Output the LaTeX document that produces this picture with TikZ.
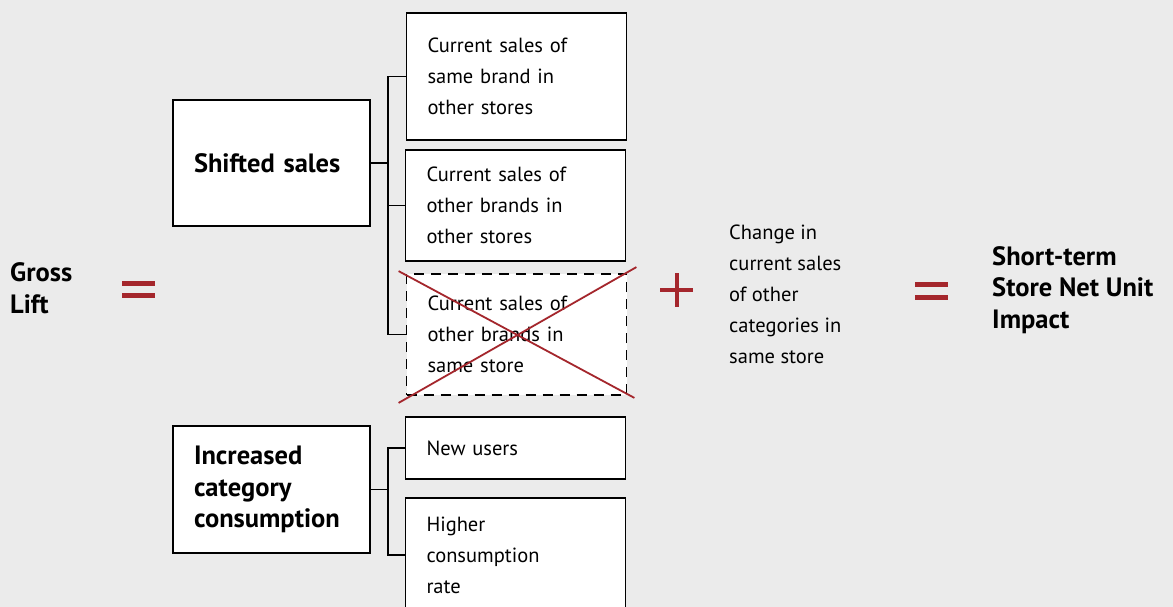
\documentclass[tikz,border=0pt]{standalone}
\usepackage{fontspec}
\setmainfont{PT Sans}
\usetikzlibrary{calc}

\definecolor{bgray}{RGB}{235,235,235}
\definecolor{darkred}{RGB}{164,38,44}

\begin{document}
\begin{tikzpicture}[x=1pt,y=-1pt,line cap=butt,line join=miter,
        box/.style={draw=black,line width=1.8pt,fill=white,rectangle,align=left,inner xsep=21pt,inner ysep=0pt},
        leafbox/.style={box,text width=178pt,font=\fontsize{20.5}{31}\selectfont},
        headbox/.style={box,text width=155pt,font=\bfseries\fontsize{26.5}{31.5}\selectfont},
        freetext/.style={anchor=west,align=left,inner sep=0pt},
        conn/.style={line width=1.8pt},
        redsign/.style={draw=darkred,line width=5pt},
        cross/.style={draw=darkred,line width=1.8pt}]
        \useasboundingbox (0,0) rectangle (1173,607);
        \fill[bgray] (0,0) rectangle (1173,607);
        \clip (0,0) rectangle (1173,607);
        % left term and the two groups
        \node[freetext,font=\bfseries\fontsize{26.5}{32}\selectfont] (gross) at (10,288) {Gross\\Lift};
        \node[headbox,minimum height=126pt] (shifted) at (271.5,163) {Shifted sales};
        \node[headbox,minimum height=127pt] (increased) at (271.5,489.5) {Increased\\category\\consumption};
        \node[leafbox,minimum height=127pt] (samebrand) at (516.5,76.5) {Current sales of\\same brand in\\other stores};
        \node[leafbox,minimum height=111pt] (otherbrands) at (515.5,205.5) {Current sales of\\other brands in\\other stores};
        \node[leafbox,minimum height=121pt,dash pattern=on 10pt off 7pt] (samestore) at (516.5,334.5) {Current sales of\\other brands in\\same store};
        \node[leafbox,minimum height=62pt] (newusers) at (515.5,448) {New users};
        \node[leafbox,minimum height=114pt] (higher) at (515.5,555) {Higher\\consumption\\rate};
        % brackets
        \coordinate (sj) at (388,163);
        \coordinate (ij) at (388,489.5);
        \draw[conn] (shifted.east) -- (sj);
        \draw[conn] (samebrand.west) -| (sj) |- (samestore.west);
        \draw[conn] (otherbrands.west) -- (otherbrands.west -| sj);
        \draw[conn] (increased.east) -- (ij);
        \draw[conn] (newusers.west) -| (ij) |- (higher.west);
        % struck out term
        \draw[cross] ($(samestore.north west)+(-7,-2)$) -- ($(samestore.south east)+(7,2)$);
        \draw[cross] ($(samestore.south west)+(-7,7)$) -- ($(samestore.north east)+(9,-6)$);
        % signs
        \draw[redsign] (122,283.5) -- (155,283.5);
        \draw[redsign] (122,295.5) -- (155,295.5);
        \draw[redsign,line width=4pt] (660,290) -- (693,290);
        \draw[redsign,line width=4pt] (676.5,273) -- (676.5,307);
        \draw[redsign] (915,284.5) -- (948,284.5);
        \draw[redsign] (915,297.5) -- (948,297.5);
        % right side
        \node[freetext,font=\fontsize{20.5}{31}\selectfont] (othercat) at (729,294) {Change in\\current sales\\of other\\categories in\\same store};
        \node[freetext,font=\bfseries\fontsize{26.5}{31.5}\selectfont] (netimpact) at (992,290) {Short-term\\Store Net Unit\\Impact};
\end{tikzpicture}
\end{document}
